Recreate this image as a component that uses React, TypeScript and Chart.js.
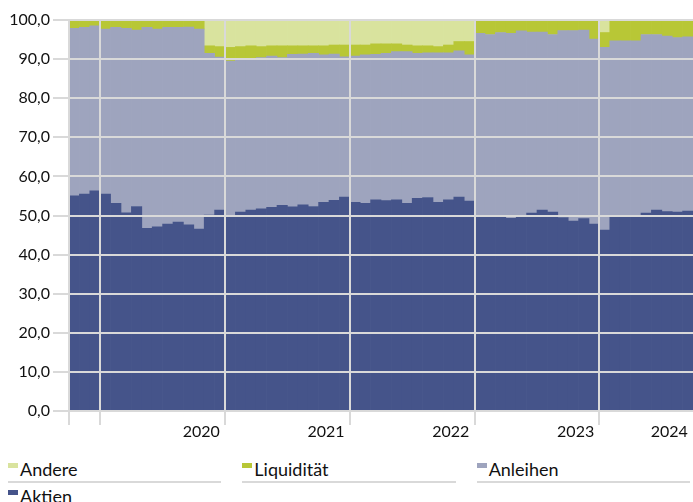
import React, { useEffect, useRef } from "react";
import { Chart, registerables } from "chart.js";

Chart.register(...registerables);

const months: string[] = [
  "10/2019", "11/2019", "12/2019",
  "01/2020", "02/2020", "03/2020", "04/2020", "05/2020", "06/2020", "07/2020", "08/2020", "09/2020", "10/2020", "11/2020", "12/2020",
  "01/2021", "02/2021", "03/2021", "04/2021", "05/2021", "06/2021", "07/2021", "08/2021", "09/2021", "10/2021", "11/2021", "12/2021",
  "01/2022", "02/2022", "03/2022", "04/2022", "05/2022", "06/2022", "07/2022", "08/2022", "09/2022", "10/2022", "11/2022", "12/2022",
  "01/2023", "02/2023", "03/2023", "04/2023", "05/2023", "06/2023", "07/2023", "08/2023", "09/2023", "10/2023", "11/2023", "12/2023",
  "01/2024", "02/2024", "03/2024", "04/2024", "05/2024", "06/2024", "07/2024", "08/2024", "09/2024",
];

const aktien: number[] = [
  55.0, 55.5, 56.3,
  55.5, 53.1, 50.7, 52.3, 46.7, 47.1, 47.8, 48.3, 47.6, 46.5, 50.1, 51.4,
  49.9, 50.9, 51.4, 51.7, 52.1, 52.6, 52.2, 52.7, 52.3, 53.4, 53.9, 54.7,
  53.4, 53.1, 54.0, 53.8, 54.0, 53.1, 54.4, 54.6, 53.4, 54.0, 54.7, 53.7,
  50.0, 49.8, 49.6, 49.3, 49.6, 50.6, 51.4, 50.9, 49.5, 48.6, 49.2, 47.8,
  46.3, 49.8, 50.0, 50.0, 50.6, 51.4, 51.0, 50.9, 51.1,
];

const anleihen: number[] = [
  42.9, 42.6, 42.2,
  42.2, 45.0, 47.2, 45.1, 51.4, 50.6, 50.3, 49.8, 50.6, 51.2, 41.4, 39.1,
  39.6, 39.2, 38.8, 38.7, 38.7, 37.8, 39.0, 38.6, 39.2, 37.7, 37.4, 35.9,
  37.4, 38.0, 37.2, 37.7, 37.9, 38.8, 37.1, 37.0, 38.2, 37.6, 37.4, 37.4,
  46.6, 46.5, 47.2, 47.3, 47.6, 46.3, 45.5, 45.4, 47.8, 48.7, 48.2, 47.3,
  46.7, 44.9, 44.7, 44.7, 45.7, 44.9, 44.9, 44.6, 44.6,
];

const liquiditaet: number[] = [
  2.1, 1.9, 1.5,
  2.3, 1.9, 2.1, 2.6, 1.9, 2.3, 1.9, 1.9, 1.8, 2.3, 1.9, 2.7,
  3.5, 3.1, 3.2, 2.8, 2.6, 3.0, 2.2, 2.1, 1.9, 2.3, 2.3, 3.0,
  2.8, 2.5, 2.7, 2.4, 2.0, 1.7, 1.9, 1.8, 1.6, 2.0, 2.4, 3.4,
  3.4, 3.7, 3.2, 3.4, 2.8, 3.1, 3.1, 3.7, 2.7, 2.7, 2.6, 4.9,
  3.8, 5.3, 5.3, 5.3, 3.7, 3.7, 4.1, 4.5, 4.3,
];

const andere: number[] = [
  0, 0, 0,
  0, 0, 0, 0, 0, 0, 0, 0, 0, 0, 6.6, 6.8,
  7.0, 6.8, 6.6, 6.8, 6.6, 6.6, 6.6, 6.6, 6.6, 6.6, 6.4, 6.4,
  6.4, 6.4, 6.1, 6.1, 6.1, 6.4, 6.6, 6.6, 6.8, 6.4, 5.5, 5.5,
  0, 0, 0, 0, 0, 0, 0, 0, 0, 0, 0, 0,
  3.2, 0, 0, 0, 0, 0, 0, 0, 0,
];

const xTickLabels: string[] = ["2020", "2021", "2022", "2023", "2024"];
const xTickAt: string[] = ["12/2020", "12/2021", "12/2022", "12/2023", "09/2024"];
const gridBoundaryAt: string[] = ["10/2019", "01/2020", "01/2021", "01/2022", "01/2023", "01/2024"];

const legendItems = [
  { label: "Andere", color: "#D9E39E" },
  { label: "Liquidität", color: "#B8C736" },
  { label: "Anleihen", color: "#9EA4BE" },
  { label: "Aktien", color: "#45548A" },
];

const CANVAS_W = 693;
const CANVAS_H = 445;
const GRID = "#d9d9d9";
const FONT = { family: "Lato", size: 16 };
const TEXT = "#111111";

export default function App() {
  const ref = useRef<HTMLCanvasElement>(null);

  useEffect(() => {
    const barOpts = { barPercentage: 1, categoryPercentage: 1, borderWidth: 0 };
    const chart = new Chart(ref.current as HTMLCanvasElement, {
      type: "bar",
      data: {
        labels: months,
        datasets: [
          { label: "Aktien", data: aktien, backgroundColor: "#45548A", ...barOpts },
          { label: "Anleihen", data: anleihen, backgroundColor: "#9EA4BE", ...barOpts },
          { label: "Liquidität", data: liquiditaet, backgroundColor: "#B8C736", ...barOpts },
          { label: "Andere", data: andere, backgroundColor: "#D9E39E", ...barOpts },
        ],
      },
      options: {
        responsive: false,
        animation: false,
        layout: { padding: { top: 20, right: 0, left: 0, bottom: 0 } },
        plugins: { legend: { display: false }, tooltip: { enabled: false } },
        scales: {
          x: {
            stacked: true,
            offset: true,
            grid: {
              z: 1,
              offset: true,
              lineWidth: 2,
              tickLength: 14,
              color: (ctx: any) => (gridBoundaryAt.includes(months[ctx.index]) ? GRID : "rgba(0,0,0,0)"),
              tickColor: (ctx: any) => (gridBoundaryAt.includes(months[ctx.index]) ? GRID : "rgba(0,0,0,0)"),
            },
            border: { display: false },
            ticks: {
              autoSkip: false,
              maxRotation: 0,
              minRotation: 0,
              align: "end",
              padding: -3,
              font: FONT,
              color: TEXT,
              callback: (_v: any, i: number) => {
                const k = xTickAt.indexOf(months[i]);
                return k >= 0 ? xTickLabels[k] : "";
              },
            },
            afterFit: (s: any) => {
              s.height = CANVAS_H - 411;
            },
          },
          y: {
            stacked: true,
            min: 0,
            max: 100,
            grid: { z: 1, lineWidth: 2, tickLength: 16, color: GRID, tickColor: GRID },
            border: { display: false },
            ticks: {
              stepSize: 10,
              padding: 3,
              font: FONT,
              color: TEXT,
              callback: (v: any) => Number(v).toFixed(1).replace(".", ","),
            },
            afterFit: (s: any) => {
              s.width = 69;
            },
          },
        },
      },
    } as any);
    return () => chart.destroy();
  }, []);

  return (
    <div style={{ position: "absolute", left: 0, top: 0, width: CANVAS_W, height: 502, overflow: "hidden", background: "#fff" }}>
      <canvas ref={ref} width={CANVAS_W} height={CANVAS_H} style={{ display: "block" }} />
      <div
        style={{
          position: "absolute",
          left: 8,
          top: 459,
          width: 682,
          display: "grid",
          gridTemplateColumns: "repeat(3, 1fr)",
          columnGap: 21,
          rowGap: 3,
          fontFamily: "Lato",
          fontSize: 18,
          color: TEXT,
        }}
      >
        {legendItems.map((it) => (
          <div
            key={it.label}
            style={{
              display: "flex",
              alignItems: "flex-start",
              height: 20,
              lineHeight: "20px",
              paddingBottom: 2,
              borderBottom: `2px solid ${GRID}`,
            }}
          >
            <span style={{ display: "inline-block", width: 10, height: 5, marginTop: 4, marginRight: 2, background: it.color }} />
            <span>{it.label}</span>
          </div>
        ))}
      </div>
    </div>
  );
}
